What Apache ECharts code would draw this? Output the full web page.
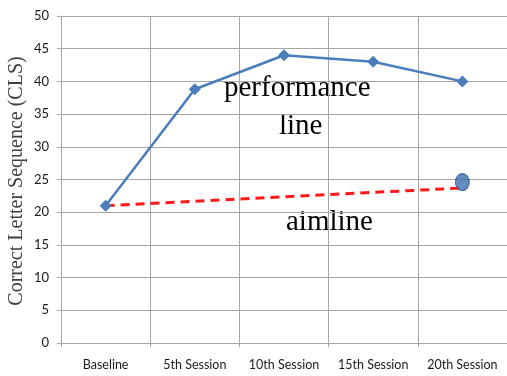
<!DOCTYPE html>
<html>
<head>
<meta charset="utf-8">
<script src="https://cdn.jsdelivr.net/npm/echarts@6/dist/echarts.min.js"></script>
<style>html,body{margin:0;padding:0;background:#fff;}#c{width:507px;height:376px;}</style>
</head>
<body>
<div id="c"></div>
<script>
const categories = ['Baseline', '5th Session', '10th Session', '15th Session', '20th Session'];
const performance = [21, 38.8, 44, 43, 40];
const aimline = [21, null, null, null, 23.7];
const goal = [null, null, null, null, 24.6];
const yTicks = { min: 0, max: 50, interval: 5 };
const yAxisTitle = 'Correct Letter Sequence (CLS)';

const chart = echarts.init(document.getElementById('c'), null, { renderer: 'canvas' });
const gridColor = '#a6a6a6';
chart.setOption({
  animation: false,
  backgroundColor: '#fff',
  grid: { left: 61, right: 0, top: 16, bottom: 33, containLabel: false, outerBoundsMode: 'none' },
  xAxis: {
    type: 'category',
    data: categories,
    boundaryGap: true,
    axisLine: { show: true, lineStyle: { color: gridColor, width: 1 } },
    axisTick: { show: true, length: 4, interval: 0, lineStyle: { color: gridColor } },
    splitLine: { show: true, interval: 0, lineStyle: { color: gridColor, width: 1 } },
    axisLabel: { interval: 0, color: '#1a1a1a', fontFamily: 'Lato', fontSize: 12.5, margin: 15, hideOverlap: false }
  },
  yAxis: {
    type: 'value',
    min: yTicks.min, max: yTicks.max, interval: yTicks.interval,
    axisLine: { show: true, lineStyle: { color: gridColor, width: 1 } },
    axisTick: { show: true, length: 4, lineStyle: { color: gridColor } },
    splitLine: { show: true, lineStyle: { color: gridColor, width: 1 } },
    axisLabel: { color: '#1a1a1a', fontFamily: 'Lato', fontSize: 13, margin: 12 }
  },
  series: [
    {
      type: 'line',
      data: aimline,
      connectNulls: true,
      symbol: 'none',
      lineStyle: { color: '#ff1a1a', width: 3, type: [9, 6] },
      z: 2
    },
    {
      type: 'line',
      data: performance,
      symbol: 'diamond',
      symbolSize: 12,
      itemStyle: { color: '#4a7ebb' },
      lineStyle: { color: '#4a7ebb', width: 2.5 },
      z: 3
    },
    {
      type: 'scatter',
      data: goal,
      symbol: 'circle',
      symbolSize: [14, 17],
      itemStyle: { color: '#3d6fb0', borderColor: '#2c5286', borderWidth: 1 },
      z: 4
    }
  ],
  graphic: [
    { type: 'text', x: 17, y: 181, rotation: Math.PI / 2,
      style: { text: yAxisTitle, font: '20px "Liberation Serif"', fill: '#404040', align: 'center', verticalAlign: 'middle' } },
    { type: 'text', left: 224, top: 74, style: { text: 'performance', font: '29px "Liberation Serif"', fill: '#000' } },
    { type: 'text', left: 279, top: 112, style: { text: 'line', font: '29px "Liberation Serif"', fill: '#000' } },
    { type: 'text', left: 286, top: 208, style: { text: 'aimline', font: '29px "Liberation Serif"', fill: '#000' } }
  ]
});
</script>
</body>
</html>
